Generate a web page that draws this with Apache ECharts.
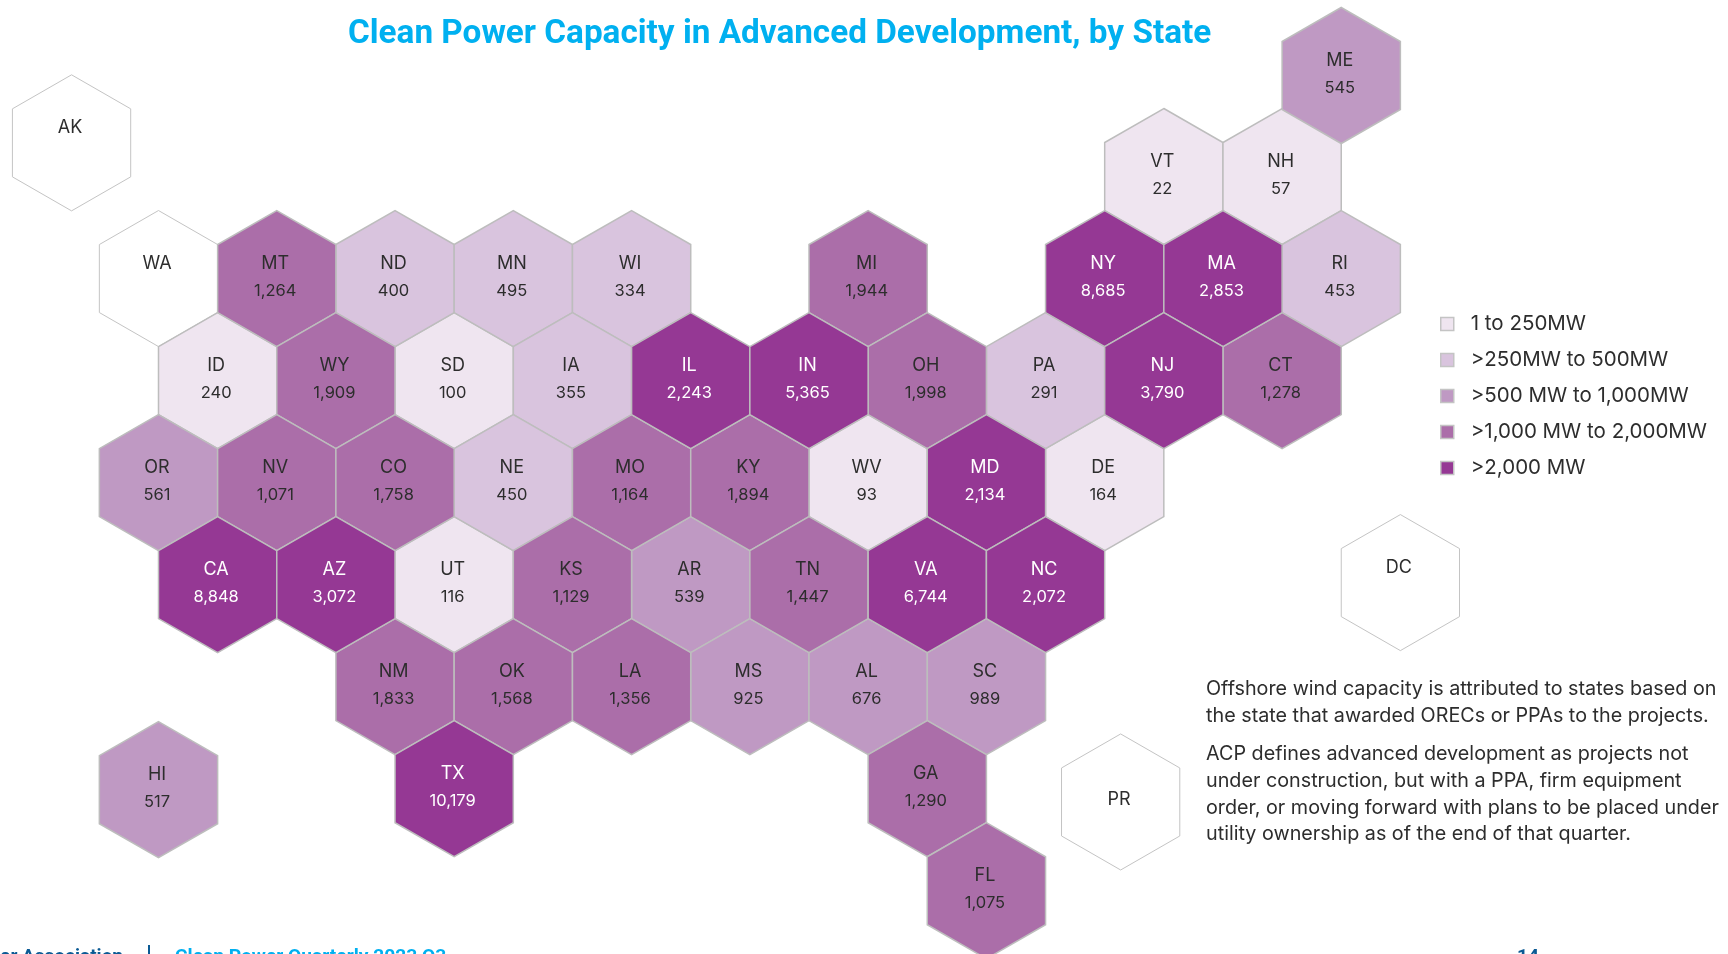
<!DOCTYPE html>
<html><head><meta charset="utf-8">
<style>html,body{margin:0;padding:0;background:#fff}#c{width:1728px;height:954px}</style>
<script src="https://cdn.jsdelivr.net/npm/echarts@6/dist/echarts.min.js"></script>
</head><body><div id="c"></div>
<script>
// hex-grid tile map: column counts half-hexes, row counts hex rows
const states = ['AK','WA','MT','ND','MN','WI','MI','NY','MA','RI','ME','VT','NH','ID','WY','SD','IA','IL','IN','OH','PA','NJ','CT','OR','NV','CO','NE','MO','KY','WV','MD','DE','CA','AZ','UT','KS','AR','TN','VA','NC','DC','NM','OK','LA','MS','AL','SC','HI','TX','GA','PR','FL'];
const values = [null,null,1264,400,495,334,1944,8685,2853,453,545,22,57,240,1909,100,355,2243,5365,1998,291,3790,1278,561,1071,1758,450,1164,1894,93,2134,164,8848,3072,116,1129,539,1447,6744,2072,null,1833,1568,1356,925,676,989,517,10179,1290,null,1075];
const cols = [-1.47,0,2,4,6,8,12,16,18,20,20,17,19,1,3,5,7,9,11,13,15,17,19,0,2,4,6,8,10,12,14,16,1,3,5,7,9,11,13,15,21,4,6,8,10,12,14,0,5,13,16.27,14];
const rows = [-1.33,0,0,0,0,0,0,0,0,0,-1.99,-1,-1,1,1,1,1,1,1,1,1,1,1,2,2,2,2,2,2,2,2,2,3,3,3,3,3,3,3,3,2.98,4,4,4,4,4,4,5.01,5,5,5.13,6];
const binNames = ['1 to 250MW','>250MW to 500MW','>500 MW to 1,000MW','>1,000 MW to 2,000MW','>2,000 MW'];
const binUpper = [250,500,1000,2000,Infinity];
const binColors = ['#EFE5F0','#D9C4DE','#BF99C3','#AB6EA9','#953894'];
const titleText = 'Clean Power Capacity in Advanced Development, by State';
const noteLines = ['Offshore wind capacity is attributed to states based on','the state that awarded ORECs or PPAs to the projects.','ACP defines advanced development as projects not','under construction, but with a PPA, firm equipment','order, or moving forward with plans to be placed under','utility ownership as of the end of that quarter.'];
const noteY = [687,714,752,779,806,832];

const font = 'Inter';
function binOf(v){ return binUpper.findIndex(u => v <= u); }
function makeRender(fill, stroke, lw, txt){
  return function(params, api){
    const x = api.value(0), y = api.value(1);
    const offs = [[0,-2/3],[1,-1/3],[1,1/3],[0,2/3],[-1,1/3],[-1,-1/3]];
    const pts = offs.map(o => api.coord([x+o[0], y+o[1]]));
    const c = api.coord([x,y]);
    const name = api.value(2);
    const dy = states[name]==='PR' ? -2 : -15;
    const ch = [{type:'polygon',shape:{points:pts},style:{fill:fill,stroke:stroke,lineWidth:lw}}];
    ch.push({type:'text',x:c[0]-1.5,y:c[1]+dy,style:{text:states[name],fill:txt,font:'400 18px '+font,align:'center',verticalAlign:'middle'}});
    if(values[name]!=null) ch.push({type:'text',x:c[0]-1.5,y:c[1]+12.5,style:{text:values[name].toLocaleString('en-US'),fill:txt,font:'400 16.5px '+font,align:'center',verticalAlign:'middle'}});
    return {type:'group',children:ch};
  };
}
const idx = states.map((s,i)=>i);
const series = binNames.map((n,b)=>({
  name:n,type:'custom',coordinateSystem:'cartesian2d',clip:false,silent:true,
  itemStyle:{color:binColors[b]},
  renderItem:makeRender(binColors[b],'#BDBDBD',1.5,b===4?'#FFFFFF':'#2D2D2D'),
  encode:{x:0,y:1},
  data:idx.filter(i=>values[i]!=null && binOf(values[i])===b).map(i=>[cols[i],rows[i],i,values[i]])
}));
series.unshift({
  name:'No capacity',type:'custom',coordinateSystem:'cartesian2d',clip:false,silent:true,
  renderItem:makeRender('#FFFFFF','#C4C4C4',1,'#2D2D2D'),
  encode:{x:0,y:1},
  data:idx.filter(i=>values[i]==null).map(i=>[cols[i],rows[i],i,0])
});

const texts = noteLines.map((t,i)=>({type:'text',left:1206,top:noteY[i]-8,style:{text:t,fill:'#2D2D2D',font:'400 19.75px '+font}}));
texts.push({type:'text',x:123,y:948,style:{text:'American Clean Power Association',align:'right',fill:'#0B5A94',font:'700 19px Roboto'}});
texts.push({type:'rect',shape:{x:148,y:945,width:2,height:9},style:{fill:'#0B5A94'}});
texts.push({type:'text',x:175,y:948,style:{text:'Clean Power Quarterly 2023 Q3',fill:'#00B0F0',font:'700 19.2px Roboto'}});
texts.push({type:'text',x:1517,y:948,style:{text:'14',fill:'#0B5A94',font:'700 19px Roboto'}});

const chart = echarts.init(document.getElementById('c'),null,{renderer:'canvas'});
chart.setOption({
  animation:false,backgroundColor:'#fff',
  title:{text:titleText,left:348,top:18,padding:0,textStyle:{color:'#00B0F0',fontFamily:'Roboto',fontWeight:700,fontSize:33.3}},
  grid:{left:0,right:0,top:0,bottom:0,containLabel:false},
  xAxis:{type:'value',min:-2.68,max:26.54,show:false},
  yAxis:{type:'value',min:-2.73,max:6.62,inverse:true,show:false},
  legend:{orient:'vertical',left:1440,top:313.5,itemWidth:13,itemHeight:13,itemGap:15,selectedMode:false,padding:0,
    data:binNames.map((n,b)=>({name:n,icon:'rect',itemStyle:{color:binColors[b],borderColor:'#C4C4C4',borderWidth:1.5}})),
    textStyle:{color:'#2D2D2D',fontFamily:font,fontSize:20.5,padding:[0,0,0,12],lineHeight:21}},
  graphic:texts,
  series:series
});
</script></body></html>
